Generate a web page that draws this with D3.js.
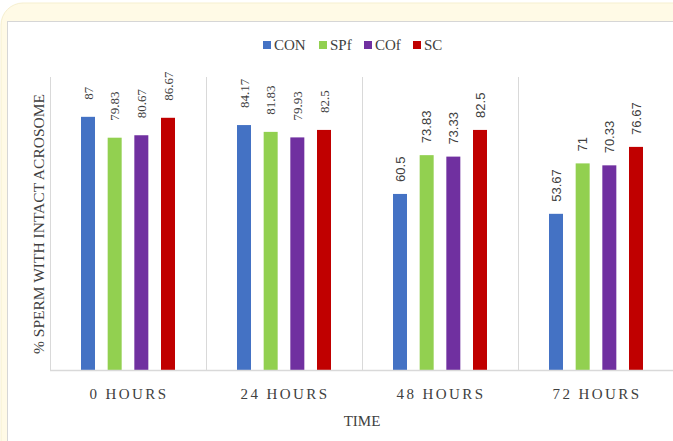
<!DOCTYPE html>
<html>
<head>
<meta charset="utf-8">
<script src="https://cdn.jsdelivr.net/npm/d3@7/dist/d3.min.js"></script>
<style>
  html, body { margin: 0; padding: 0; background: #ffffff; }
  svg { display: block; }
</style>
</head>
<body>
<svg id="chart" width="673" height="441"></svg>
<script>
// Time points and treatment groups
const categories = ["0 HOURS", "24 HOURS", "48 HOURS", "72 HOURS"];
const seriesNames = ["CON", "SPf", "COf", "SC"];
const seriesColors = ["#4472c4", "#92d050", "#7030a0", "#c00000"];

// % sperm with intact acrosome, one array per treatment (ordered by time point)
const CON = [87, 84.17, 60.5, 53.67];
const SPf = [79.83, 81.83, 73.83, 71];
const COf = [80.67, 79.93, 73.33, 70.33];
const SC  = [86.67, 82.5, 82.5, 76.67];
const seriesValues = [CON, SPf, COf, SC];

const yTicks = [0, 100];

const svg = d3.select("#chart");
const W = 673, H = 441;

// Frame: cream card with a white plotting panel
svg.append("rect").attr("x", 1).attr("y", 3).attr("width", W + 30).attr("height", H + 30)
  .attr("rx", 22).attr("fill", "#fffae6").attr("stroke", "#f6efcf").attr("stroke-width", 1);
svg.append("rect").attr("x", 7.5).attr("y", 21.5).attr("width", W).attr("height", H)
  .attr("fill", "#ffffff").attr("stroke", "#d6d6d6").attr("stroke-width", 1);

const plot = { left: 50, right: 674, top: 79, bottom: 370 };

const x0 = d3.scaleBand().domain(categories).range([plot.left, plot.right]).padding(0);
const x1 = d3.scalePoint().domain(seriesNames).range([38, 118]);
const barW = 14;
const y = d3.scaleLinear().domain([yTicks[0], yTicks[1]]).range([plot.bottom, plot.top]);

// Category separators
const seps = categories.map(c => x0(c));
svg.append("g").selectAll("line").data(seps).join("line")
  .attr("x1", d => Math.round(d) + 0.5).attr("x2", d => Math.round(d) + 0.5)
  .attr("y1", y(100) - 2).attr("y2", plot.bottom)
  .attr("stroke", "#d9d9d9").attr("stroke-width", 1);

// Bars
const rows = [];
categories.forEach((c, ci) => {
  seriesNames.forEach((s, si) => {
    rows.push({ cat: c, ci, s, si, v: seriesValues[si][ci] });
  });
});

svg.append("g").selectAll("rect").data(rows).join("rect")
  .attr("x", d => x0(d.cat) + x1(d.s) - barW / 2)
  .attr("y", d => y(d.v))
  .attr("width", barW)
  .attr("height", d => y(0) - y(d.v))
  .attr("fill", d => seriesColors[d.si]);

// Value labels, rotated
svg.append("g").selectAll("text").data(rows).join("text")
  .attr("transform", d => {
    const cx = x0(d.cat) + x1(d.s) + 4.5;
    const gap = d.ci < 2 ? 17 : 12;
    return `translate(${cx},${y(d.v) - gap}) rotate(-90)`;
  })
  .attr("text-anchor", "start")
  .attr("font-family", d => d.ci < 2 ? "'Liberation Serif', serif" : "'Liberation Sans', sans-serif")
  .attr("font-size", 13)
  .attr("fill", "#404040")
  .text(d => d.v);

// X axis baseline
svg.append("line").attr("x1", plot.left).attr("x2", W).attr("y1", plot.bottom + 0.5).attr("y2", plot.bottom + 0.5)
  .attr("stroke", "#d9d9d9").attr("stroke-width", 1.5);

// Category labels
svg.append("g").selectAll("text").data(categories).join("text")
  .attr("x", d => x0(d) + x0.bandwidth() / 2 + 1)
  .attr("y", 399)
  .attr("text-anchor", "middle")
  .attr("font-family", "'Liberation Serif', serif")
  .attr("font-size", 15)
  .attr("letter-spacing", "2.4px")
  .attr("fill", "#404040")
  .text(d => d);

// Axis titles
svg.append("text").attr("x", (plot.left + plot.right) / 2).attr("y", 426)
  .attr("text-anchor", "middle").attr("font-family", "'Liberation Serif', serif")
  .attr("font-size", 15).attr("fill", "#404040").text("TIME");

svg.append("text").attr("transform", `translate(44,${224}) rotate(-90)`)
  .attr("text-anchor", "middle").attr("font-family", "'Liberation Serif', serif")
  .attr("font-size", 15.5).attr("fill", "#404040").text("% SPERM WITH INTACT ACROSOME");

// Legend
const legendX = [263, 319, 364, 413];
const lg = svg.append("g").selectAll("g").data(seriesNames).join("g")
  .attr("transform", (d, i) => `translate(${legendX[i]},41)`);
lg.append("rect").attr("width", 8).attr("height", 8).attr("fill", (d, i) => seriesColors[i]);
lg.append("text").attr("x", 11).attr("y", 8.5)
  .attr("font-family", "'Liberation Serif', serif").attr("font-size", 15)
  .attr("fill", "#404040").text(d => d);
</script>
</body>
</html>
